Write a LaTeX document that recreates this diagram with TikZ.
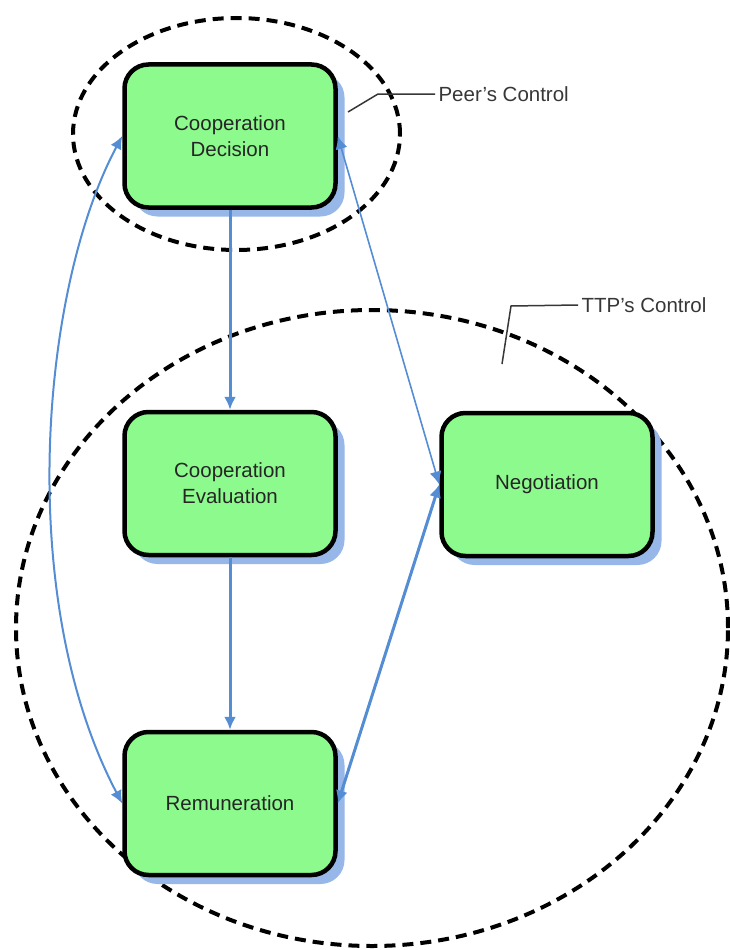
\documentclass[tikz,border=0pt]{standalone}
\usepackage{fontspec}
\setmainfont{Liberation Sans}
\usepackage{tikz}
\usetikzlibrary{positioning,calc,shadows,arrows.meta}

\definecolor{boxgreen}{RGB}{140,250,140}
\definecolor{flowblue}{RGB}{84,141,212}
\definecolor{shadeblue}{RGB}{150,183,232}
\definecolor{labelgray}{RGB}{55,55,55}

\tikzset{
  stage/.style={draw=black, line width=4.5pt, rounded corners=24pt, fill=boxgreen,
    minimum width=211pt, minimum height=143pt, align=center, text=black!85,
    font=\fontsize{20.5}{26}\selectfont,
    drop shadow={shadow xshift=9pt, shadow yshift=-9pt, fill=shadeblue, opacity=1}},
  zone/.style={black, line width=4pt, dash pattern=on 11pt off 7pt},
  flow/.style={flowblue, line width=3pt, {Latex[length=13pt,width=12pt]}-{Latex[length=13pt,width=12pt]}},
  zonelbl/.style={anchor=west, text=labelgray, font=\fontsize{20.5}{24}\selectfont},
  leader/.style={labelgray, line width=1.5pt}
}

\begin{document}
\begin{tikzpicture}[x=1pt,y=-1pt]
\useasboundingbox (0,0) rectangle (729,950);

%control zones
\draw[zone] (236.5,134) ellipse [x radius=163.5pt, y radius=116pt];
\draw[zone] (372,628) ellipse [x radius=356pt, y radius=318pt];

%boxes
\node[stage] (dec) at (230,136) {Cooperation\\Decision};
\node[stage] (eval) at (230,483.5) {Cooperation\\Evaluation};
\node[stage] (neg) at (547,484.5) {Negotiation};
\node[stage] (rem) at (230,803.5) {Remuneration};

%arrows
\draw[flow,-{Latex[length=13pt,width=12pt]}] (dec.south) -- (eval.north);
\draw[flow,-{Latex[length=13pt,width=12pt]}] (eval.south) -- (rem.north);
\draw[flow,line width=1.6pt] (dec.east) -- (neg.west);
\draw[flow] (neg.west) -- (rem.east);
\draw[flow,line width=2pt] (dec.west) .. controls (40,290) and (15,600) .. (rem.west);

%labels
\node[zonelbl] (peerlbl) at (435,94) {Peer’s Control};
\node[zonelbl] (ttplbl) at (578,305) {TTP’s Control};
\coordinate (peertip) at (348,112);
\coordinate (ttptip) at (502,364);
\draw[leader] (peertip) -- (378,94) -- (peerlbl.west);
\draw[leader] (ttptip) -- (511,306) -- (ttplbl.west);
\end{tikzpicture}
\end{document}
